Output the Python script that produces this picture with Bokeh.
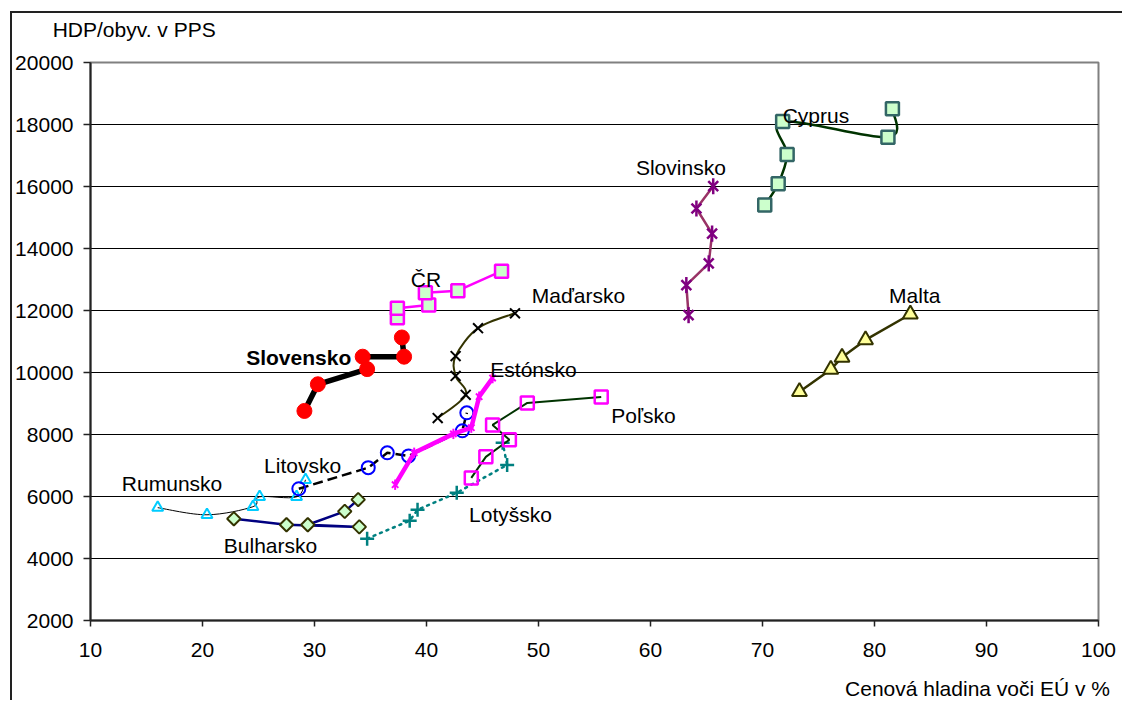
import numpy as np
from bokeh.plotting import figure
from bokeh.models import Range1d, FixedTicker, Label, LinearAxis
from bokeh.embed import file_html
from bokeh.resources import INLINE

# ---------------- data ----------------
x_ticks = [10, 20, 30, 40, 50, 60, 70, 80, 90, 100]
y_ticks = [2000, 4000, 6000, 8000, 10000, 12000, 14000, 16000, 18000, 20000]

sk_x = [29.1, 30.3, 34.7, 34.3, 38.0, 37.8]
sk_y = [8760, 9620, 10110, 10510, 10510, 11130]
cz_x = [37.4, 37.4, 40.2, 39.9, 42.8, 46.7]
cz_y = [11770, 12070, 12180, 12570, 12640, 13270]
hu_x = [41.0, 43.5, 42.6, 42.6, 44.6, 47.9]
hu_y = [8530, 9280, 9890, 10530, 11430, 11910]
ee_x = [37.2, 38.9, 42.4, 44.0, 44.7, 45.9]
ee_y = [6380, 7410, 8020, 8220, 9220, 9820]
lt_x = [28.6, 34.8, 36.5, 38.4, 43.2, 43.6]
lt_y = [6250, 6930, 7410, 7310, 8120, 8700]
pl_x = [44.0, 45.3, 47.4, 45.9, 49.0, 55.6]
pl_y = [6600, 7280, 7830, 8310, 9020, 9210]
lv_x = [34.7, 38.5, 39.2, 42.7, 47.2, 46.8]
lv_y = [4640, 5220, 5570, 6120, 7020, 7730]
ro_x = [16.0, 20.4, 24.5, 25.1, 28.4, 29.2]
ro_y = [5640, 5410, 5670, 5990, 5990, 6540]
bg_x = [22.8, 27.5, 34.0, 29.4, 32.7, 33.9]
bg_y = [5280, 5090, 5020, 5090, 5520, 5900]
si_x = [63.4, 63.2, 65.2, 65.5, 64.1, 65.6]
si_y = [11850, 12820, 13520, 14480, 15290, 16010]
cy_x = [70.2, 71.4, 72.2, 71.8, 81.2, 81.6]
cy_y = [15400, 16090, 17030, 18100, 17590, 18510]
mt_x = [73.3, 76.1, 77.1, 79.2, 83.2]
mt_y = [9380, 10100, 10490, 11050, 11880]

label_names = ["Cyprus", "Slovinsko", "Malta", "Maďarsko", "ČR", "Slovensko",
               "Estónsko", "Poľsko", "Litovsko", "Rumunsko", "Bulharsko", "Lotyšsko"]
label_x = [71.8, 58.7, 81.3, 49.4, 38.6, 23.9, 45.7, 56.5, 25.5, 12.8, 21.9, 43.8]
label_y = [18290, 16610, 12500, 12500, 13010, 10490, 10110, 8600, 6990, 6410, 4415, 5410]

y_title = "HDP/obyv. v PPS"
x_title = "Cenová hladina voči EÚ v %"
y_title_at = 13.9   # x position (data) of the centre of the y-axis title
x_title_at = 89.2   # x position (data) of the centre of the x-axis title

FONT = "Liberation Sans"
FS = "21px"

p = figure(width=1112, height=689, output_backend="svg", toolbar_location=None,
           title=None,
           x_range=Range1d(10, 100), y_range=Range1d(2000, 20000),
           min_border_left=77, min_border_right=26, min_border_top=49, min_border_bottom=81)
# chart-area frame (top and left edges are visible, the rest runs off the page)
p.styles = {"margin-left": "10px", "margin-top": "11px",
            "border-top": "2px solid #222222", "border-left": "2px solid #222222"}
p.background_fill_color = "white"
p.border_fill_color = "white"
p.outline_line_color = "#808080"
p.outline_line_width = 2
p.xgrid.grid_line_color = None
p.ygrid.grid_line_color = "black"
p.ygrid.grid_line_width = 1
p.xaxis.ticker = FixedTicker(ticks=x_ticks)
p.yaxis.ticker = FixedTicker(ticks=y_ticks)
for ax in (p.xaxis[0], p.yaxis[0]):
    ax.axis_line_color = "#222222"
    ax.axis_line_width = 2
    ax.major_tick_line_color = "#222222"
    ax.major_tick_line_width = 1.5
    ax.major_tick_in = 0
    ax.minor_tick_line_color = None
    ax.major_label_text_font = FONT
    ax.major_label_text_font_size = FS
    ax.major_label_text_color = "black"
p.yaxis.major_tick_out = 7
p.yaxis.major_label_standoff = 10
p.xaxis.major_tick_out = 6
p.xaxis.major_label_standoff = 16


def title_axis(tick, text, standoff):
    ax = LinearAxis(ticker=FixedTicker(ticks=[tick]),
                    major_label_overrides={tick: text},
                    axis_line_color=None, major_tick_line_color=None,
                    minor_tick_line_color=None, major_tick_in=0, major_tick_out=0,
                    major_label_standoff=standoff,
                    major_label_text_font=FONT, major_label_text_font_size=FS,
                    major_label_text_color="black")
    return ax


p.add_layout(title_axis(y_title_at, y_title, 22), "above")
p.add_layout(title_axis(x_title_at, x_title, 17), "below")


def smooth(xs, ys, t=1.0 / 6):
    xs = np.asarray(xs, float)
    ys = np.asarray(ys, float)
    px = np.concatenate([[xs[0]], xs, [xs[-1]]])
    py = np.concatenate([[ys[0]], ys, [ys[-1]]])
    n = len(xs)
    out = dict(x0=[], y0=[], x1=[], y1=[], cx0=[], cy0=[], cx1=[], cy1=[])
    for i in range(n - 1):
        out["x0"].append(px[i + 1]); out["y0"].append(py[i + 1])
        out["x1"].append(px[i + 2]); out["y1"].append(py[i + 2])
        out["cx0"].append(px[i + 1] + (px[i + 2] - px[i]) * t)
        out["cy0"].append(py[i + 1] + (py[i + 2] - py[i]) * t)
        out["cx1"].append(px[i + 2] - (px[i + 3] - px[i + 1]) * t)
        out["cy1"].append(py[i + 2] - (py[i + 3] - py[i + 1]) * t)
    return out


def curve(xs, ys, color, width, dash="solid"):
    s = smooth(xs, ys)
    p.bezier(x0=s["x0"], y0=s["y0"], x1=s["x1"], y1=s["y1"],
             cx0=s["cx0"], cy0=s["cy0"], cx1=s["cx1"], cy1=s["cy1"],
             line_color=color, line_width=width, line_dash=dash)


def star(xs, ys, color, size, width):
    p.scatter(xs, ys, marker="x", size=size, line_color=color, line_width=width)
    p.scatter(xs, ys, marker="dash", angle=np.pi / 2, size=size * 1.15,
              line_color=color, line_width=width)


# Rumunsko
curve(ro_x, ro_y, "black", 1)
p.scatter(ro_x, ro_y, marker="triangle", size=11, fill_color=None,
          line_color="#00CCFF", line_width=2)

# Bulharsko
p.line(bg_x, bg_y, line_color="#000080", line_width=2.5)
p.scatter(bg_x, bg_y, marker="square", angle=np.pi / 4, size=9.5,
          fill_color="#CCFFCC", line_color="#333300", line_width=2)

# Lotyšsko
p.line(lv_x, lv_y, line_color="#008080", line_width=2.5, line_dash="2 5", line_cap="round")
p.scatter(lv_x, lv_y, marker="cross", size=14, line_color="#008080", line_width=2.5)

# Litovsko
p.line(lt_x, lt_y, line_color="black", line_width=2.5, line_dash="10 5")
p.scatter(lt_x, lt_y, marker="circle", size=13, fill_color=None,
          line_color="#0000FF", line_width=2)

# Poľsko
p.line(pl_x, pl_y, line_color="#003300", line_width=2)
p.scatter(pl_x, pl_y, marker="square", size=13, fill_color=None,
          line_color="#FF00FF", line_width=2.5)

# Estónsko
p.line(ee_x, ee_y, line_color="#FF00FF", line_width=4.5)
star(ee_x, ee_y, "#FF00FF", 9, 2)

# Maďarsko
curve(hu_x, hu_y, "#333300", 2)
p.scatter(hu_x, hu_y, marker="x", size=14, line_color="black", line_width=2)

# ČR
p.line(cz_x, cz_y, line_color="#FF00FF", line_width=2.5)
p.scatter(cz_x, cz_y, marker="square", size=13, fill_color="#CCFFCC",
          line_color="#FF00FF", line_width=2.5)

# Slovensko
p.line(sk_x, sk_y, line_color="black", line_width=5.5)
p.scatter(sk_x, sk_y, marker="circle", size=15, fill_color="#FF0000",
          line_color="#FF0000", line_width=1)

# Slovinsko
p.line(si_x, si_y, line_color="#993366", line_width=2.5)
star(si_x, si_y, "#800080", 14, 2.5)

# Cyprus
curve(cy_x, cy_y, "#003300", 2.5)
p.scatter(cy_x, cy_y, marker="square", size=13, fill_color="#CCFFCC",
          line_color="#336666", line_width=2.5)

# Malta
p.line(mt_x, mt_y, line_color="#333300", line_width=2.5)
p.scatter(mt_x, mt_y, marker="triangle", size=15, fill_color="#FFFF99",
          line_color="#333300", line_width=2)

# country labels
for name, lx, ly in zip(label_names, label_x, label_y):
    p.add_layout(Label(x=lx, y=ly, text=name, text_font=FONT, text_font_size=FS,
                       text_color="black", text_baseline="alphabetic",
                       text_font_style="bold" if name == "Slovensko" else "normal"))

open("out.html", "w").write(file_html(p, INLINE))
